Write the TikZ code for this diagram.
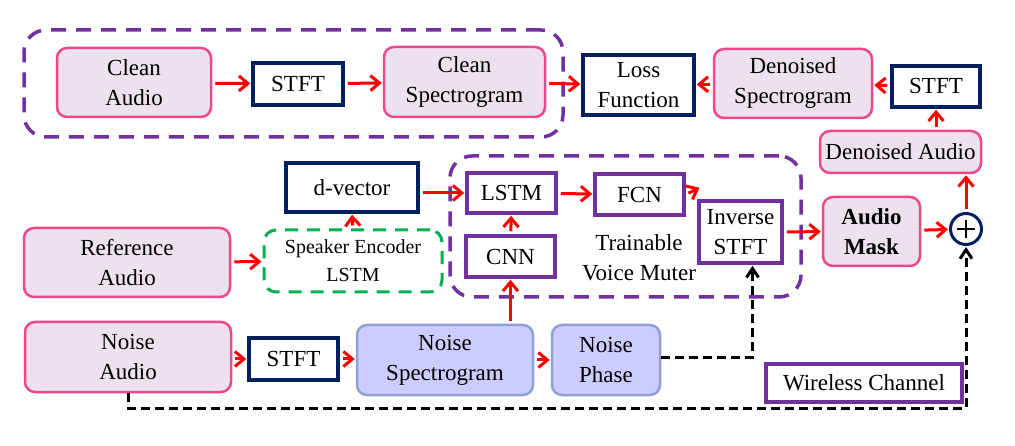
\documentclass[tikz,border=0pt]{standalone}
\usepackage{fontspec}
\setmainfont{Liberation Serif}
\usetikzlibrary{arrows.meta,calc}
\definecolor{pinkb}{RGB}{236,72,140}
\definecolor{pinkf}{RGB}{237,225,238}
\definecolor{navy}{RGB}{0,32,96}
\definecolor{purp}{RGB}{112,48,160}
\definecolor{grn}{RGB}{0,176,80}
\definecolor{blueb}{RGB}{142,160,214}
\definecolor{bluef}{RGB}{204,204,255}
\begin{document}
\begin{tikzpicture}[x=1pt,y=-1pt,font=\fontsize{23}{30}\selectfont,
  sz/.style n args={2}{minimum width=#1pt,minimum height=#2pt},
  box/.style={draw,align=center,inner sep=0pt,text=black},
  pinkbox/.style={box,draw=pinkb,fill=pinkf,line width=2.5pt,rounded corners=10pt},
  navybox/.style={box,draw=navy,line width=3.5pt,fill=white},
  purpbox/.style={box,draw=purp,line width=3.5pt,fill=white},
  bluebox/.style={box,draw=blueb,fill=bluef,line width=2.5pt,rounded corners=10pt},
  dashbox/.style={draw=purp,line width=3.5pt,dash pattern=on 15pt off 10pt,rounded corners=22pt,inner sep=0pt},
  greenbox/.style={box,draw=grn,line width=3pt,dash pattern=on 13pt off 9pt,rounded corners=12pt},
  rarr/.style={draw=red,line width=3pt,-{Straight Barb[length=9pt,width=15pt]},shorten <=3pt,shorten >=1pt},
  karr/.style={draw=black,line width=3pt,dash pattern=on 9pt off 5pt,-{Straight Barb[length=9pt,width=12pt]},shorten >=1pt}]
\useasboundingbox (0,0) rectangle (1015,446);
% dashed groups
\node[dashbox,sz={539}{107}] (cleangrp) at (293.5,83.5) {};
\node[dashbox,sz={351}{141}] (traingrp) at (625.5,226.5) {};
% top row
\node[pinkbox,sz={154}{69}] (ca) at (134,82.5) {Clean\\Audio};
\node[navybox,sz={90}{42}] (stftA) at (298,84) {STFT};
\node[pinkbox,sz={161}{70}] (cs) at (464.5,82) {Clean\\Spectrogram};
\node[navybox,sz={111}{60}] (loss) at (638.5,85) {Loss\\Function};
\node[pinkbox,sz={158}{69}] (ds) at (793,83.5) {Denoised\\Spectrogram};
\node[navybox,sz={88}{41}] (stftB) at (936,86.5) {STFT};
\node[pinkbox,sz={161}{42}] (da) at (900.5,152) {Denoised Audio};
% middle
\node[navybox,sz={132}{49}] (dvec) at (352,187.5) {d-vector};
\node[purpbox,sz={89}{40}] (lstm) at (511.5,193) {LSTM};
\node[purpbox,sz={89}{41}] (fcn) at (639.5,194.5) {FCN};
\node[purpbox,sz={83}{62}] (inv) at (740.5,232) {Inverse\\STFT};
\node[purpbox,sz={89}{41}] (cnn) at (510.5,256.5) {CNN};
\node[align=center,inner sep=0pt] (tvm) at (639,258) {Trainable\\Voice Muter};
\node[pinkbox,sz={206}{69}] (ref) at (127,262.5) {Reference\\Audio};
\node[greenbox,sz={178}{62},font=\fontsize{20}{28}\selectfont] (se) at (353,261) {Speaker Encoder\\LSTM};
\node[pinkbox,sz={97}{69},font=\fontsize{23}{30}\selectfont\bfseries] (mask) at (871.5,231.5) {Audio\\Mask};
\node[circle,draw=navy,line width=3pt,fill=white,minimum size=31pt,inner sep=0pt] (plus) at (966,229) {};
\draw[line width=2pt,black] ($(plus.center)+(-9,0)$) -- ($(plus.center)+(9,0)$);
\draw[line width=2pt,black] ($(plus.center)+(0,-9)$) -- ($(plus.center)+(0,9)$);
% bottom row
\node[pinkbox,sz={206}{70}] (na) at (128,357) {Noise\\Audio};
\node[navybox,sz={89}{42}] (stftC) at (293.5,359) {STFT};
\node[bluebox,sz={176}{70}] (ns) at (445,360) {Noise\\Spectrogram};
\node[bluebox,sz={108}{70}] (np) at (606,360) {Noise\\Phase};
\node[purpbox,sz={196}{38}] (wc) at (864,383) {Wireless Channel};
% red arrows
\draw[rarr] (ca) -- (stftA);
\draw[rarr] (stftA) -- (cs);
\draw[rarr] (cs) -- (loss);
\draw[rarr] (ds) -- (loss);
\draw[rarr] (stftB) -- (ds);
\draw[rarr] (da.north -| stftB.south) -- (stftB.south);
\draw[rarr] (plus.north) -- (plus.north |- da.south);
\draw[rarr] (mask) -- (plus);
\draw[rarr] (inv) -- (mask);
\draw[rarr] (fcn.east) -- ($(inv.north west)+(3,-12)$);
\draw[rarr] (lstm) -- (fcn);
\draw[rarr] (cnn) -- (lstm);
\draw[rarr] (dvec.east |- lstm.west) -- (lstm.west);
\draw[rarr] (se.north) -- (dvec.south);
\draw[rarr] (ref) -- (se);
\draw[rarr] (ns.north -| cnn.south) -- (cnn.south);
\draw[rarr] (na.east |- stftC.west) -- (stftC.west);
\draw[rarr] (stftC) -- (ns.west |- stftC.east);
\draw[rarr] (ns.east |- np.west) -- (np.west);
% black dashed connectors
\coordinate (yb) at (0,408);
\coordinate (invin) at ($(inv.south)+(12,0)$);
\coordinate (ph) at (0,358);
\draw[karr] (np.east |- ph) -| (invin);
\draw[karr] (na.south) |- (plus.south |- yb) -- (plus.south);
\end{tikzpicture}
\end{document}
